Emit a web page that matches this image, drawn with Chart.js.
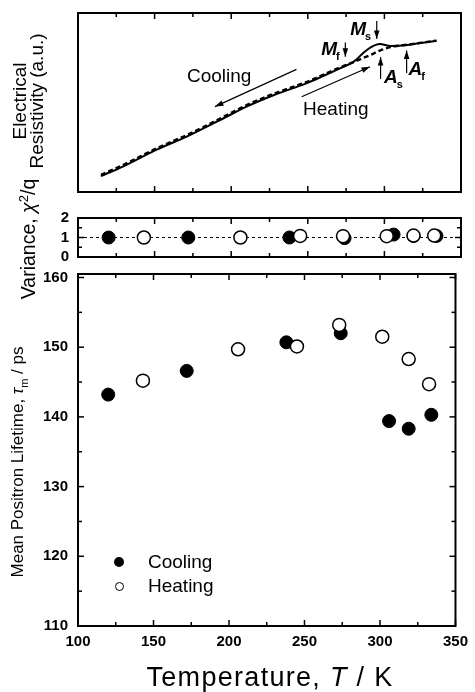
<!DOCTYPE html>
<html>
<head>
<meta charset="utf-8">
<script src="https://cdn.jsdelivr.net/npm/chart.js@4/dist/chart.umd.min.js"></script>
<style>
  body { margin: 0; background: #fff; }
  #wrap { position: relative; width: 475px; height: 692px; overflow: hidden; font-family: "Liberation Sans", Arial, sans-serif; color: #000; }
  canvas { position: absolute; left: 0; }
  .title { position: absolute; white-space: nowrap; transform: translate(-50%, -50%) rotate(-90deg); text-align: center; }
  .legend { position: absolute; font-size: 19px; line-height: 20px; }
  .dot { position: absolute; border-radius: 50%; box-sizing: border-box; }
</style>
</head>
<body>
<div id="wrap">
  <canvas id="rhoChart" width="475" height="200" style="top:0"></canvas>
  <canvas id="varChart" width="475" height="75" style="top:200px"></canvas>
  <canvas id="tauChart" width="475" height="437" style="top:255px"></canvas>

  <div class="title" style="left:28px; top:101px; font-size:19px; line-height:17px;">Electrical<br>Resistivity (a.u.)</div>
  <div class="title" style="left:28px; top:239px; font-size:19.5px;">Variance, <i>χ</i><sup style="font-size:13px">2</sup>/q</div>
  <div class="title" style="left:19px; top:462px; font-size:17px;">Mean Positron Lifetime, <i>τ</i><sub style="font-size:11px">m</sub> / ps</div>
  <div style="position:absolute; left:270px; top:664px; transform:translateX(-50%); font-size:27px; line-height:27px; letter-spacing:1.3px; white-space:nowrap;">Temperature, <i>T</i> / K</div>

  <div class="dot" style="left:114px; top:557px; width:10px; height:10px; background:#000;"></div>
  <div class="legend" style="left:148px; top:552px;">Cooling</div>
  <div class="dot" style="left:114.5px; top:581.5px; width:9px; height:9px; border:1.5px solid #000; background:#fff;"></div>
  <div class="legend" style="left:148px; top:576px;">Heating</div>
</div>

<script>
// resistivity curves (arbitrary units) vs temperature
const rhoTemps   = [115, 130, 151, 173, 195, 210, 228, 249, 260, 271, 280, 286, 291, 297, 304, 315, 325, 334];
const rhoCooling = [8.9, 14.5, 23.5, 31.8, 41.2, 47.7, 54.2, 60.7, 64.8, 69.1, 72.8, 77.5, 80.8, 82.7, 81.6, 82.1, 83.4, 84.5];
const rhoHeating = [9.6, 15.3, 24.3, 32.6, 42.0, 48.5, 55.0, 61.4, 65.5, 69.6, 72.6, 74.8, 76.6, 79.0, 80.9, 82.3, 83.5, 84.6];

// positron measurements
const coolT   = [120, 172, 238, 274, 306, 319, 334];
const coolTau = [143.2, 146.6, 150.7, 152.0, 139.4, 138.3, 140.3];
const coolVar = [1.0, 1.0, 1.0, 0.97, 1.15, 1.08, 1.08];
const heatT   = [143, 206, 245, 273, 301.5, 319, 332.5];
const heatTau = [145.2, 149.7, 150.1, 153.2, 151.5, 148.3, 144.7];
const heatVar = [1.0, 1.0, 1.08, 1.07, 1.07, 1.1, 1.1];
const varRef  = 1;

const tempRange = [100, 350];
const tempStep  = 50;
const varRange  = [0, 2];
const tauRange  = [110, 160.5];

const FONT = '"Liberation Sans", Arial, sans-serif';
Chart.defaults.font.family = FONT;
Chart.defaults.color = '#000';

const pts = (xs, ys) => xs.map((x, i) => ({ x: x, y: ys[i] }));

// box around the plot area with inward ticks on every side
const frame = {
  id: 'frame',
  afterDatasetsDraw(chart, args, opts) {
    const { ctx, chartArea: a, scales: { x, y } } = chart;
    ctx.save();
    ctx.strokeStyle = '#000';
    ctx.lineWidth = 2;
    ctx.strokeRect(a.left, a.top, a.right - a.left, a.bottom - a.top);
    ctx.lineWidth = 1.5;
    const line = (x1, y1, x2, y2) => { ctx.beginPath(); ctx.moveTo(x1, y1); ctx.lineTo(x2, y2); ctx.stroke(); };
    const half = tempStep / 2;
    for (let i = 0; tempRange[0] + i * half <= tempRange[1]; i++) {
      const px = x.getPixelForValue(tempRange[0] + i * half);
      const len = i % 2 === 0 ? 6 : 4;
      line(px, a.bottom, px, a.bottom - len);
      line(px, a.top, px, a.top + len);
    }
    if (opts.yStep) {
      for (let i = 0; y.min + i * opts.yStep / 2 <= y.max; i++) {
        const py = y.getPixelForValue(y.min + i * opts.yStep / 2);
        const len = i % 2 === 0 ? 6 : 4;
        line(a.left, py, a.left + len, py);
        line(a.right, py, a.right - len, py);
      }
    }
    ctx.restore();
  }
};

// arrows and transformation labels on the resistivity panel
const notes = {
  id: 'notes',
  afterDatasetsDraw(chart, args, opts) {
    const { ctx, scales: { x, y } } = chart;
    ctx.save();
    ctx.fillStyle = '#000';
    ctx.strokeStyle = '#000';
    ctx.lineWidth = 1.2;
    opts.arrows.forEach(ar => {
      const x1 = x.getPixelForValue(ar.from[0]), y1 = y.getPixelForValue(ar.from[1]);
      const x2 = x.getPixelForValue(ar.to[0]), y2 = y.getPixelForValue(ar.to[1]);
      const ang = Math.atan2(y2 - y1, x2 - x1);
      ctx.beginPath(); ctx.moveTo(x1, y1); ctx.lineTo(x2, y2); ctx.stroke();
      const L = 8.5, W = 2.8;
      ctx.beginPath();
      ctx.moveTo(x2, y2);
      ctx.lineTo(x2 - L * Math.cos(ang) + W * Math.sin(ang), y2 - L * Math.sin(ang) - W * Math.cos(ang));
      ctx.lineTo(x2 - L * Math.cos(ang) - W * Math.sin(ang), y2 - L * Math.sin(ang) + W * Math.cos(ang));
      ctx.closePath(); ctx.fill();
    });
    ctx.textBaseline = 'middle';
    ctx.textAlign = 'left';
    ctx.font = '19px ' + FONT;
    opts.texts.forEach(t => ctx.fillText(t.text, x.getPixelForValue(t.at[0]), y.getPixelForValue(t.at[1])));
    ctx.textBaseline = 'alphabetic';
    opts.temps.forEach(t => {
      ctx.font = 'italic bold 19px ' + FONT;
      const mw = ctx.measureText(t.main).width;
      ctx.font = 'bold 11px ' + FONT;
      const sw = ctx.measureText(t.sub).width;
      let px = x.getPixelForValue(t.at[0]);
      if (t.align === 'right') px -= mw + sw;
      const py = y.getPixelForValue(t.at[1]);
      ctx.font = 'italic bold 19px ' + FONT;
      ctx.fillText(t.main, px, py);
      ctx.font = 'bold 11px ' + FONT;
      ctx.fillText(t.sub, px + mw - 1, py + 5);
    });
    ctx.restore();
  }
};

const baseOpts = {
  responsive: false,
  animation: false,
  events: [],
  plugins: { legend: { display: false }, tooltip: { enabled: false } }
};

new Chart(document.getElementById('rhoChart'), {
  type: 'line',
  data: {
    datasets: [
      { data: pts(rhoTemps, rhoCooling), borderColor: '#000', borderWidth: 2, pointRadius: 0, tension: 0.3, cubicInterpolationMode: 'monotone' },
      { data: pts(rhoTemps, rhoHeating), borderColor: '#000', borderWidth: 2.4, borderDash: [5, 3], pointRadius: 0, tension: 0.3, cubicInterpolationMode: 'monotone' }
    ]
  },
  options: Object.assign({}, baseOpts, {
    layout: { padding: { top: 13, bottom: 8, left: 78, right: 14 } },
    scales: {
      x: { type: 'linear', display: false, min: tempRange[0], max: tempRange[1] },
      y: { type: 'linear', display: false, min: 0, max: 100 }
    },
    plugins: Object.assign({}, baseOpts.plugins, {
      frame: {},
      notes: {
        arrows: [
          { from: [242.6, 68.5], to: [189.4, 47.7] },
          { from: [246, 53.2], to: [290.6, 70] },
          { from: [295, 95.5], to: [295, 85.5] },
          { from: [274.5, 83.5], to: [274.5, 75.5] },
          { from: [297.5, 63.1], to: [297.5, 75.4] },
          { from: [314.5, 66.5], to: [314.5, 79] }
        ],
        texts: [
          { text: 'Cooling', at: [171.1, 64.2] },
          { text: 'Heating', at: [246.9, 45.8] }
        ],
        temps: [
          { main: 'M', sub: 's', at: [292, 87.5], align: 'right' },
          { main: 'M', sub: 'f', at: [271.5, 76.5], align: 'right' },
          { main: 'A', sub: 's', at: [299.8, 60.9], align: 'left' },
          { main: 'A', sub: 'f', at: [315.8, 65.4], align: 'left' }
        ]
      }
    })
  }),
  plugins: [frame, notes]
});

const yTickFont = { size: 15, weight: 'bold' };

new Chart(document.getElementById('varChart'), {
  type: 'scatter',
  data: {
    datasets: [
      { data: pts(heatT, heatVar), pointRadius: 6.5, pointBackgroundColor: '#fff', pointBorderColor: '#000', pointBorderWidth: 1.5, order: 0 },
      { data: pts(coolT, coolVar), pointRadius: 6.5, pointBackgroundColor: '#000', pointBorderColor: '#000', pointBorderWidth: 1, order: 1 },
      { type: 'line', data: pts(tempRange, [varRef, varRef]), borderColor: '#000', borderWidth: 1, borderDash: [3, 3], pointRadius: 0, order: 2 }
    ]
  },
  options: Object.assign({}, baseOpts, {
    layout: { padding: { top: 15, bottom: 12.5, left: 0, right: 14 } },
    scales: {
      x: { type: 'linear', display: false, min: tempRange[0], max: tempRange[1] },
      y: {
        type: 'linear', min: varRange[0], max: varRange[1],
        grid: { display: false, drawTicks: false }, border: { display: false },
        ticks: { stepSize: 1, padding: 9, font: yTickFont },
        afterFit: s => { s.width = 78; }
      }
    },
    plugins: Object.assign({}, baseOpts.plugins, { frame: { yStep: 1 } })
  }),
  plugins: [frame]
});

new Chart(document.getElementById('tauChart'), {
  type: 'scatter',
  data: {
    datasets: [
      { data: pts(heatT, heatTau), pointRadius: 6.5, pointBackgroundColor: '#fff', pointBorderColor: '#000', pointBorderWidth: 1.5, order: 0 },
      { data: pts(coolT, coolTau), pointRadius: 6.5, pointBackgroundColor: '#000', pointBorderColor: '#000', pointBorderWidth: 1, order: 1 }
    ]
  },
  options: Object.assign({}, baseOpts, {
    layout: { padding: { top: 18.3, bottom: 0, left: 0, right: 14 } },
    scales: {
      x: {
        type: 'linear', min: tempRange[0], max: tempRange[1],
        grid: { display: false, drawTicks: false }, border: { display: false },
        ticks: { stepSize: tempStep, padding: 7, font: yTickFont, maxRotation: 0, autoSkip: false },
        afterFit: s => { s.height = 66; }
      },
      y: {
        type: 'linear', min: tauRange[0], max: tauRange[1],
        grid: { display: false, drawTicks: false }, border: { display: false },
        ticks: { stepSize: 10, includeBounds: false, padding: 10, font: yTickFont },
        afterFit: s => { s.width = 78; }
      }
    },
    plugins: Object.assign({}, baseOpts.plugins, { frame: { yStep: 10 } })
  }),
  plugins: [frame]
});
</script>
</body>
</html>
